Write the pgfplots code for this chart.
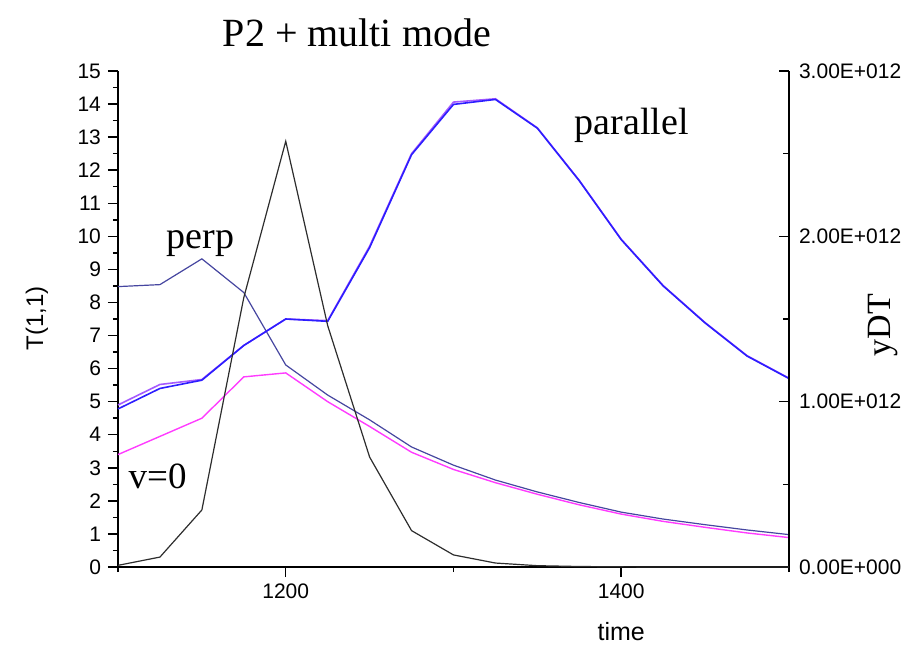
\documentclass[border=0pt]{standalone}
\usepackage{pgfplots}
\pgfplotsset{compat=1.18}
\usepackage{fontspec}
\setmainfont{Liberation Serif}
\newfontfamily\sansf{Liberation Sans}
\definecolor{perpc}{RGB}{70,70,160}
\definecolor{parc}{RGB}{45,30,255}
\definecolor{vioc}{RGB}{165,90,255}
\definecolor{magc}{RGB}{255,60,255}
\definecolor{blk}{RGB}{45,45,45}
\begin{document}
\begin{tikzpicture}
\path[use as bounding box] (-59pt,-44pt) rectangle (402pt,283.5pt);
\begin{axis}[
  at={(0,0)}, anchor=south west,
  scale only axis, width=335.5pt, height=248pt,
  xmin=1100, xmax=1500, ymin=0, ymax=15,
  axis x line=bottom, axis y line=left,
  axis line style={-, line width=1pt, black},
  tick align=outside,
  xtick={1200,1400}, minor xtick={1100,1300,1500},
  ytick={0,1,...,15}, minor ytick={0.5,1.5,...,14.5},
  major tick length=5pt, minor tick length=2.5pt,
  every tick/.style={black, line width=0.75pt},
  /pgf/number format/assume math mode=true,
  /pgf/number format/1000 sep={},
  tick label style={font=\sansf\fontsize{10.5}{12}\selectfont},
  clip=false,
]
\addplot[perpc, line width=0.6pt] coordinates {
(1100,8.48) (1125,8.54) (1150,9.32) (1175,8.3) (1200,6.11) (1225,5.2) (1250,4.45) (1275,3.63) (1300,3.08) (1325,2.63) (1350,2.27) (1375,1.95) (1400,1.66) (1425,1.45) (1450,1.28) (1475,1.12) (1500,0.98)};
\addplot[magc, line width=0.7pt] coordinates {
(1100,3.4) (1125,3.95) (1150,4.5) (1175,5.75) (1200,5.87) (1225,5.0) (1250,4.25) (1275,3.47) (1300,2.95) (1325,2.55) (1350,2.2) (1375,1.88) (1400,1.6) (1425,1.38) (1450,1.2) (1475,1.03) (1500,0.89)};
\addplot[vioc, line width=0.8pt] coordinates {
(1100,4.9) (1125,5.52) (1150,5.67) (1175,6.7) (1200,7.5) (1225,7.45) (1250,9.7) (1275,12.5) (1300,14.06) (1325,14.16) (1350,13.28) (1375,11.69) (1400,9.91) (1425,8.51) (1450,7.39) (1475,6.39) (1500,5.71)};
\addplot[parc, line width=0.8pt] coordinates {
(1100,4.78) (1125,5.4) (1150,5.65) (1175,6.7) (1200,7.5) (1225,7.43) (1250,9.66) (1275,12.47) (1300,13.99) (1325,14.14) (1350,13.27) (1375,11.68) (1400,9.9) (1425,8.5) (1450,7.38) (1475,6.38) (1500,5.7)};
\node[font=\fontsize{19}{22}\selectfont, inner sep=0pt] at (axis cs:1149.3,9.78) {perp};
\node[font=\fontsize{19}{22}\selectfont, inner sep=0pt] at (axis cs:1406.3,13.37) {parallel};
\node[font=\fontsize{18.5}{22}\selectfont, inner sep=0pt] at (axis cs:1123.6,2.74) {v=0};
\node[font=\fontsize{20}{24}\selectfont, inner sep=0pt, anchor=base] at ([yshift=12.5pt]axis cs:1242.4,15) {P2 + multi mode};
\node[font=\sansf\fontsize{12.5}{14}\selectfont, inner sep=0pt] at ([yshift=-32.5pt]axis description cs:0.75,0) {time};
\node[font=\sansf\fontsize{12}{14}\selectfont, inner sep=0pt, rotate=90] at ([xshift=-40.5pt]axis description cs:0,0.502) {T(1,1)};
\node[font=\fontsize{17}{20}\selectfont, inner sep=0pt, rotate=90] at ([xshift=47pt]axis description cs:1,0.488) {yDT};
\end{axis}
\begin{axis}[
  at={(0,0)}, anchor=south west,
  scale only axis, width=335.5pt, height=248pt,
  xmin=1100, xmax=1500, ymin=0, ymax=3,
  axis x line=none, axis y line=right,
  axis line style={-, line width=1pt, black},
  ytick align=inside,
  ytick={0,1,2,3}, minor ytick={0.5,1.5,2.5},
  yticklabels={0.00E+000,1.00E+012,2.00E+012,3.00E+012},
  major tick length=5pt, minor tick length=3pt,
  every tick/.style={black, line width=0.75pt},
  tick label style={font=\sansf\fontsize{10.5}{12}\selectfont},
  yticklabel style={xshift=1.5pt},
  clip=false,
]
\addplot[blk, line width=0.6pt] coordinates {
(1100,0.01) (1125,0.06) (1150,0.345) (1175,1.63) (1200,2.575) (1225,1.46) (1250,0.665) (1275,0.22) (1300,0.073) (1325,0.024) (1350,0.008) (1375,0.003) (1400,0.001) (1425,0) (1450,0) (1475,0) (1500,0)};
\end{axis}
\end{tikzpicture}
\end{document}
